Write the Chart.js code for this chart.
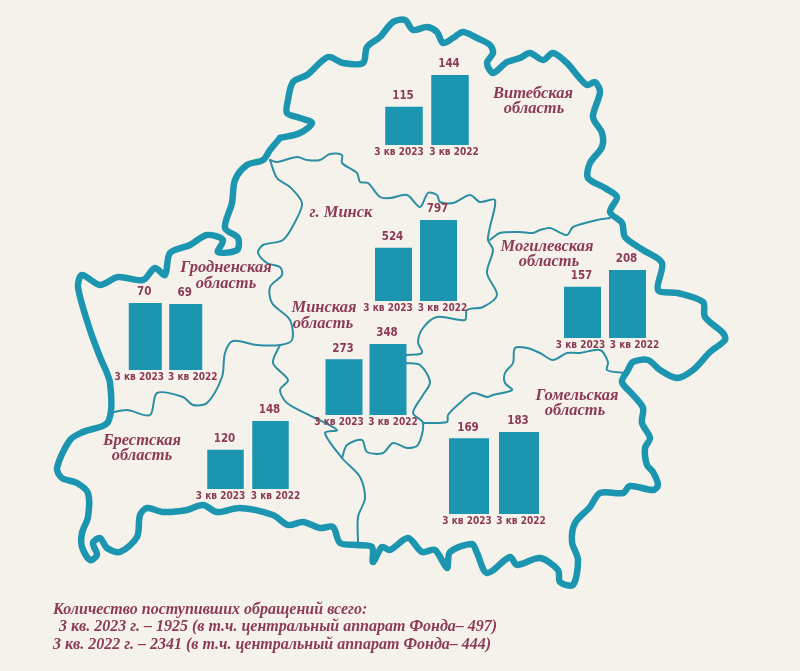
<!DOCTYPE html>
<html><head><meta charset="utf-8">
<style>html,body{margin:0;padding:0;background:#f5f2eb;width:800px;height:671px;overflow:hidden}canvas{position:absolute;display:block}</style>
<script src="https://cdn.jsdelivr.net/npm/chart.js@4/dist/chart.umd.min.js"></script>
</head><body>
<canvas id="map" width="800" height="671" style="left:0;top:0"></canvas>
<script>
// ---- data ----
const categories = ['3 кв 2023','3 кв 2022'];
const vitebsk = [115,144];
const minskCity = [524,797];
const mogilev = [157,208];
const grodno = [70,69];
const minskRegion = [273,348];
const brest = [120,148];
const gomel = [169,183];

const footerLines = [
 'Количество поступивших обращений всего:',
 ' 3 кв. 2023 г. – 1925 (в т.ч. центральный аппарат Фонда– 497)',
 '3 кв. 2022 г. – 2341 (в т.ч. центральный аппарат Фонда– 444)'
];
const regionNames = [
 ['Витебская',533,94],['область',534,109],
 ['г. Минск',341,213],
 ['Могилевская',547,247],['область',549,262],
 ['Гродненская',226,268],['область',226,284],
 ['Минская',324,308],['область',323,324],
 ['Брестская',142,441],['область',142,456],
 ['Гомельская',577,396],['область',575,411]
];

// ---- map outline ----
const outerBorder = [[280,138],[300,133],[312,123],[300,118],[287,113],[288,100],[293,82],[307,75],[328,57],[343,63],[363,63],[367,47],[380,37],[393,22],[405,20],[413,30],[427,27],[437,32],[443,43],[453,38],[463,32],[477,38],[490,45],[493,53],[487,63],[493,73],[507,62],[520,58],[530,53],[543,60],[553,53],[567,63],[577,75],[587,85],[595,82],[600,92],[593,117],[602,133],[602,147],[590,163],[588,178],[605,188],[617,197],[610,212],[622,223],[625,237],[643,250],[662,263],[658,290],[678,293],[703,302],[705,317],[723,333],[725,340],[710,352],[693,370],[677,378],[660,370],[648,360],[633,362],[628,370],[622,382],[633,395],[643,408],[642,423],[650,438],[645,448],[647,465],[653,472],[658,485],[653,490],[630,486],[623,493],[600,493],[590,507],[575,523],[572,542],[578,560],[573,585],[560,582],[558,570],[540,558],[517,565],[510,557],[487,573],[477,553],[472,544],[450,552],[447,568],[435,550],[422,552],[408,538],[390,550],[382,547],[373,562],[372,547],[357,545],[340,543],[333,527],[320,528],[303,522],[288,525],[273,515],[240,508],[217,512],[203,505],[187,510],[163,512],[147,508],[140,515],[137,537],[120,552],[107,548],[100,538],[93,543],[97,555],[90,560],[82,547],[82,533],[88,517],[88,493],[77,483],[62,478],[57,468],[70,440],[83,432],[108,422],[110,383],[100,357],[90,330],[78,287],[82,275],[100,285],[118,277],[143,280],[155,268],[165,275],[170,253],[190,245],[207,235],[223,240],[218,252],[237,250],[238,238],[225,228],[232,203],[235,180],[247,165],[263,160],[270,150],[280,138]];
const innerNorth = [[270,160],[277,162],[297,157],[307,160],[320,160],[330,154],[342,155],[342,163],[357,173],[360,182],[368,183],[380,197],[390,198],[407,195],[420,207],[428,193],[437,195],[440,202],[453,203],[470,195],[480,202],[495,200],[490,227],[488,240],[493,250],[487,273],[497,295],[483,307],[467,310],[465,320],[437,317],[423,328],[418,342],[422,353],[406,355]];
const innerMogilev = [[610,218],[597,220],[573,227],[567,235],[550,228],[540,230],[533,233],[520,232],[500,233],[490,240]];
const innerGomel = [[623,373],[607,370],[608,362],[600,350],[580,353],[567,353],[553,360],[540,353],[527,348],[515,348],[513,363],[505,373],[505,383],[512,390],[493,395],[487,397],[473,393],[460,403],[448,415],[447,422],[423,423]];
const innerCity = [[406,363],[420,365],[430,382],[423,395],[413,413],[423,423],[418,445],[407,448],[393,443],[383,453],[367,452],[362,440],[347,445],[342,458]];
const innerGrodno = [[270,160],[277,178],[290,187],[302,203],[295,222],[283,240],[263,245],[258,253],[267,263],[280,267],[282,275],[270,287],[272,303],[290,320],[292,340],[280,345],[257,345],[233,341],[225,353],[222,377],[207,403],[193,405],[183,397],[157,393],[150,415],[127,410],[110,413]];
const innerBrest = [[280,345],[273,363],[288,380],[280,390],[287,403],[313,417],[337,430],[325,433],[342,458],[360,477],[365,498],[358,517],[358,543]];
const thinBorders = [innerNorth,innerMogilev,innerGomel,innerCity,innerGrodno,innerBrest];

const TEAL='#1b95b0', WINE='#8c3a56';
const NARROW='"DejaVu Sans Condensed","Roboto",sans-serif';
const pts = a => a.map(p=>({x:p[0],y:p[1]}));
const lineDs = (a,w,c) => ({data:pts(a),showLine:true,borderColor:c,borderWidth:w,pointRadius:0,tension:0.3,borderJoinStyle:'round',borderCapStyle:'round',clip:false});

const textPlugin = {id:'text',afterDatasetsDraw(c){
  const g=c.ctx; g.save(); g.fillStyle=WINE; g.textAlign='center'; g.textBaseline='middle';
  g.font='italic bold 16.5px "Liberation Serif"';
  regionNames.forEach(r=>g.fillText(r[0],c.scales.x.getPixelForValue(r[1]),c.scales.y.getPixelForValue(r[2])));
  g.textAlign='left'; g.font='italic bold 16px "Liberation Serif"';
  const fx=[53,55,53], fy=[610,627,645];
  footerLines.forEach((t,i)=>g.fillText(t,fx[i],fy[i]));
  g.restore();
}};
new Chart(document.getElementById('map'),{type:'scatter',
  data:{datasets:[lineDs(outerBorder,6.5,TEAL),...thinBorders.map(a=>lineDs(a,2,'#2c8ea3'))]},
  options:{responsive:false,animation:false,layout:{padding:0},
    plugins:{legend:{display:false},tooltip:{enabled:false}},
    scales:{x:{type:'linear',min:0,max:800,display:false},y:{type:'linear',min:0,max:671,reverse:true,display:false}}},
  plugins:[textPlugin]});

// ---- small bar charts ----
const valuePlugin = {id:'values',afterDatasetsDraw(c){
  const g=c.ctx; g.save(); g.fillStyle=WINE; g.textAlign='center'; g.textBaseline='bottom';
  g.font='bold 11.5px '+NARROW;
  c.getDatasetMeta(0).data.forEach((b,i)=>g.fillText(c.data.datasets[0].data[i],b.x-1,b.y-5));
  g.restore();
}};
const panels = [
 {v:vitebsk,    yMin:80,x1:385,x2:431,w:37.5,top:75, base:145,shift:[-5,4]},
 {v:minskCity,  yMin:0, x1:375,x2:420,w:37,  top:220,base:301,shift:[-5.5,4]},
 {v:mogilev,    yMin:0, x1:564,x2:609,w:37,  top:270,base:338,shift:[-2,7]},
 {v:grodno,     yMin:0, x1:129,x2:169.5,w:33,top:303,base:370,shift:[-6,7]},
 {v:minskRegion,yMin:0, x1:325,x2:369,w:37,  top:344,base:415,shift:[-5,5]},
 {v:brest,      yMin:82,x1:207,x2:252,w:36.5,top:421,base:489,shift:[-5,5]},
 {v:gomel,      yMin:0, x1:449,x2:499,w:40,  top:432,base:513.5,shift:[-2,2]}
];
const padX=30,padTop=20,padBottom=18;
panels.forEach(p=>{
  const gap=p.x2-p.x1-p.w, W=2*(p.w+gap), left=p.x1-gap/2-padX;
  const cv=document.createElement('canvas');
  cv.width=Math.round(W+2*padX); cv.height=Math.round(padTop+padBottom+p.base-p.top);
  cv.style.left=left+'px'; cv.style.top=(p.top-padTop)+'px';
  document.body.appendChild(cv);
  new Chart(cv,{type:'bar',
    data:{labels:categories,datasets:[{data:p.v,backgroundColor:TEAL,borderWidth:0,barPercentage:1,categoryPercentage:p.w/(p.w+gap)}]},
    options:{responsive:false,animation:false,
      layout:{padding:{left:padX,right:cv.width-padX-W,top:padTop,bottom:0}},
      plugins:{legend:{display:false},tooltip:{enabled:false}},
      scales:{
        y:{display:false,min:p.yMin,max:Math.max(...p.v)},
        x:{offset:true,grid:{display:false,drawTicks:false},border:{display:false},
           ticks:{autoSkip:false,maxRotation:0,minRotation:0,padding:1,color:WINE,font:{family:NARROW,weight:'bold',size:10}},
           afterFit(s){ s.height=padBottom;
             if(!s._wrapped){ const g=s.getPixelForTick; s.getPixelForTick=i=>g.call(s,i)+p.shift[i]; s._wrapped=true; } }}
      }},
    plugins:[valuePlugin]});
});
</script>
</body></html>
